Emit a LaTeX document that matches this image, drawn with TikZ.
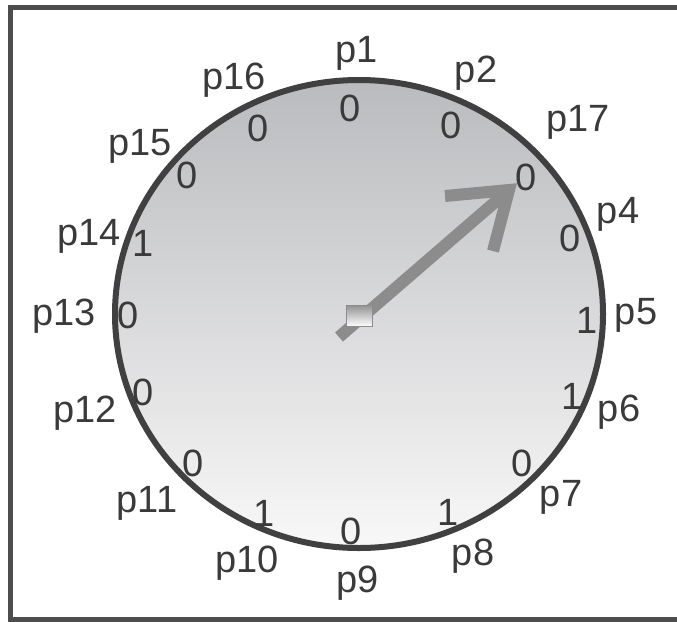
\documentclass[tikz,border=0pt]{standalone}
\usepackage{fontspec}
\setmainfont{Liberation Sans}
\definecolor{framegray}{RGB}{77,77,77}
\definecolor{rimgray}{RGB}{64,64,64}
\definecolor{handgray}{RGB}{140,140,140}
\definecolor{inkgray}{RGB}{58,58,58}
\definecolor{dialtop}{RGB}{186,187,190}
\definecolor{dialbottom}{RGB}{248,248,248}

\begin{document}
\begin{tikzpicture}[x=1pt,y=-1pt,
  lab/.style={inner sep=0pt,text=inkgray,font=\fontsize{38}{40}\selectfont},
  bit/.style={lab},
  hubbox/.style={draw=black!45,line width=0.8pt,top color=black!42,bottom color=white,
    minimum width=26pt,minimum height=21pt,inner sep=0pt}]
\clip (0,0) rectangle (677,621);
\fill[white] (0,0) rectangle (677,621);
\draw[framegray,line width=5pt] (10,7) rectangle (700,619);

% dial
\shade[top color=dialtop,bottom color=dialbottom] (359,314) ellipse [x radius=244pt,y radius=234pt];
\draw[rimgray,line width=6pt] (359,314) ellipse [x radius=244pt,y radius=234pt];

% hand
\coordinate (hub) at (339,337);
\coordinate (tip) at (509,190);
\coordinate (armA) at (445,196);
\coordinate (armB) at (493,251);
\draw[handgray,line width=12pt] (hub) -- (tip);
\draw[handgray,line width=12pt,miter limit=4] (armA) -- (tip) -- (armB);
\node[hubbox] (hubsq) at (359,316) {};

% bits on the rim
\node[bit] (b1) at (350,108) {0};
\node[bit] (b2) at (451,125) {0};
\node[bit] (b17) at (526,177) {0};
\node[bit] (b4) at (570,238) {0};
\node[bit] (b5) at (587,320) {1};
\node[bit] (b6) at (572,396) {1};
\node[bit] (b7) at (522,463) {0};
\node[bit] (b8) at (448,512) {1};
\node[bit] (b9) at (351,531) {0};
\node[bit] (b10) at (264,513) {1};
\node[bit] (b11) at (193,463) {0};
\node[bit] (b12) at (143,392) {0};
\node[bit] (b13) at (128,315) {0};
\node[bit] (b14) at (143,243) {1};
\node[bit] (b15) at (187,175) {0};
\node[bit] (b16) at (258,128) {0};

% position labels
\node[lab] (p1) at (357,53) {p1};
\node[lab] (p2) at (476,73) {p2};
\node[lab] (p17) at (578,122) {p17};
\node[lab] (p4) at (618,214) {p4};
\node[lab] (p5) at (636,315) {p5};
\node[lab] (p6) at (619,412) {p6};
\node[lab] (p7) at (561,497) {p7};
\node[lab] (p8) at (473,556) {p8};
\node[lab] (p9) at (358,583) {p9};
\node[lab] (p10) at (247,563) {p10};
\node[lab] (p11) at (147,503) {p11};
\node[lab] (p12) at (85,413) {p12};
\node[lab] (p13) at (64,316) {p13};
\node[lab] (p14) at (89,236) {p14};
\node[lab] (p15) at (140,146) {p15};
\node[lab] (p16) at (234,80) {p16};
\end{tikzpicture}
\end{document}
